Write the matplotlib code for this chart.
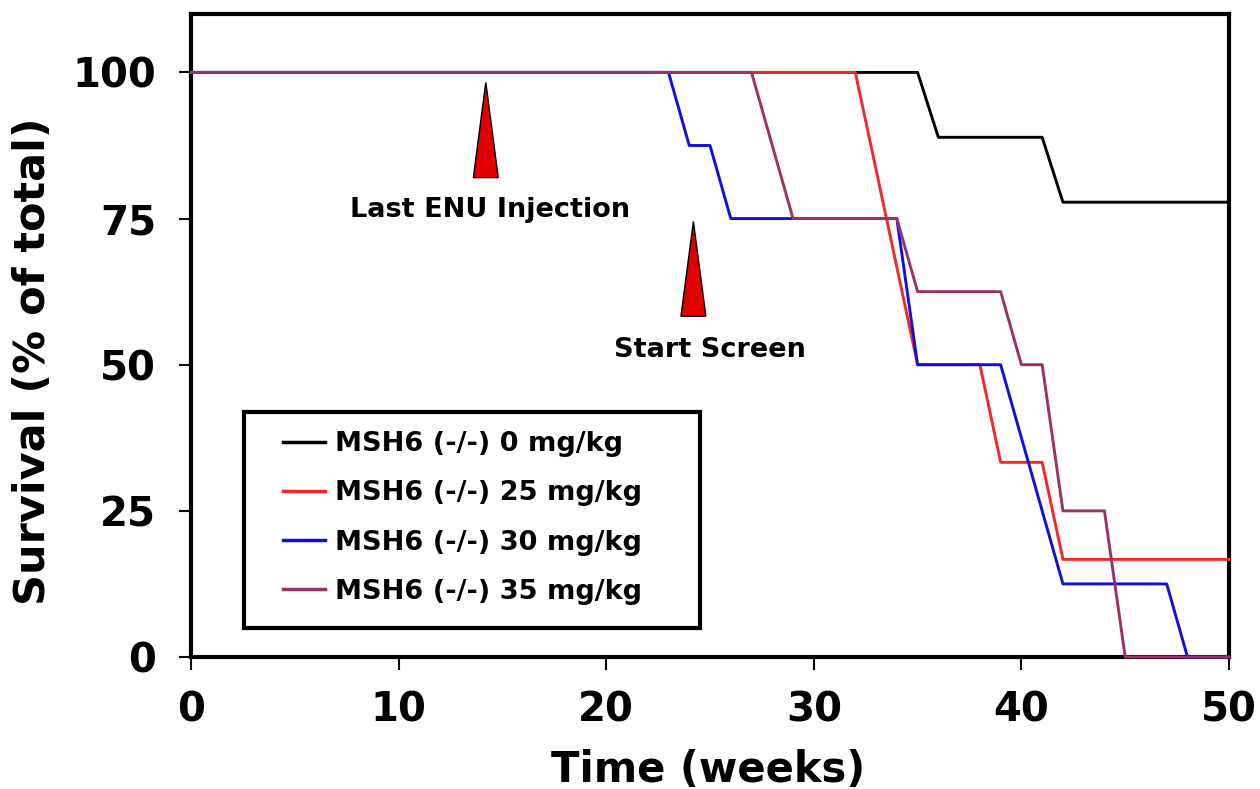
import matplotlib
matplotlib.use('Agg')
import matplotlib.pyplot as plt
from matplotlib.patches import Rectangle, Polygon

plt.rcParams['font.family'] = 'DejaVu Sans'
plt.rcParams['font.weight'] = 'bold'

# survival curves (weeks, % of total)
wk_0 = [0, 35, 36, 41, 42, 50]
surv_0 = [100, 100, 88.9, 88.9, 77.8, 77.8]

wk_25 = [0, 32, 35, 38, 39, 41, 42, 50]
surv_25 = [100, 100, 50, 50, 33.3, 33.3, 16.7, 16.7]

wk_30 = [0, 23, 24, 25, 26, 34, 35, 39, 42, 47, 48, 50]
surv_30 = [100, 100, 87.5, 87.5, 75, 75, 50, 50, 12.5, 12.5, 0, 0]

wk_35 = [0, 27, 29, 34, 35, 39, 40, 41, 42, 44, 45, 50]
surv_35 = [100, 100, 75, 75, 62.5, 62.5, 50, 50, 25, 25, 0, 0]

labels = ['MSH6 (-/-) 0 mg/kg', 'MSH6 (-/-) 25 mg/kg',
          'MSH6 (-/-) 30 mg/kg', 'MSH6 (-/-) 35 mg/kg']
colors = ['black', '#f02828', '#1010dd', '#993366']

# event markers: week, tip, base, text
events = ['Last ENU Injection', 'Start Screen']
event_wk = [14.2, 24.2]
event_tip = [98.3, 74.5]
event_base = [82.0, 58.3]
event_text_xy = [(14.4, 76.5), (25.0, 52.5)]

fig = plt.figure(figsize=(12.6, 7.89), dpi=100)
ax = fig.add_axes([0.1516, 0.1673, 0.8238, 0.815])

series = [(wk_0, surv_0), (wk_25, surv_25), (wk_30, surv_30), (wk_35, surv_35)]
for (x, y), c, lab in zip(series, colors, labels):
    ax.plot(x, y, color=c, lw=2.1, label=lab, clip_on=False, zorder=3)

for name, w, tip, base, (tx, ty) in zip(events, event_wk, event_tip, event_base, event_text_xy):
    tri = Polygon([(w - 0.6, base), (w + 0.6, base), (w, tip)], closed=True,
                  facecolor='#e00000', edgecolor='black', lw=1.0, zorder=4)
    ax.add_patch(tri)
    ax.text(tx, ty, name, ha='center', va='center', fontsize=19.5, fontweight='bold')

ax.set_xlim(0, 50)
ax.set_ylim(0, 110)
ax.set_xticks([0, 10, 20, 30, 40, 50])
ax.set_yticks([0, 25, 50, 75, 100])
ax.tick_params(axis='both', direction='out', length=9, width=1.5, labelsize=29)
ax.tick_params(axis='x', pad=15)
ax.tick_params(axis='y', pad=16)
for s in ax.spines.values():
    s.set_linewidth(3)

ax.text(0.498, -0.176, 'Time (weeks)', transform=ax.transAxes, ha='center',
        va='center', fontsize=30, fontweight='bold')
ax.text(-0.152, 0.46, 'Survival (% of total)', transform=ax.transAxes, ha='center',
        va='center', rotation=90, fontsize=31, fontweight='bold')

# legend box
ax.add_patch(Rectangle((0.051, 0.045), 0.439, 0.336, transform=ax.transAxes,
                       facecolor='white', edgecolor='black', lw=3, zorder=5))
leg = ax.legend(loc='upper left', bbox_to_anchor=(0.068, 0.385), frameon=False,
                fontsize=19.5, handlelength=1.55, handletextpad=0.35,
                labelspacing=0.86, borderpad=0.3)
leg.set_zorder(6)
for ln in leg.get_lines():
    ln.set_linewidth(2.5)

fig.savefig('out.png', dpi=100)
